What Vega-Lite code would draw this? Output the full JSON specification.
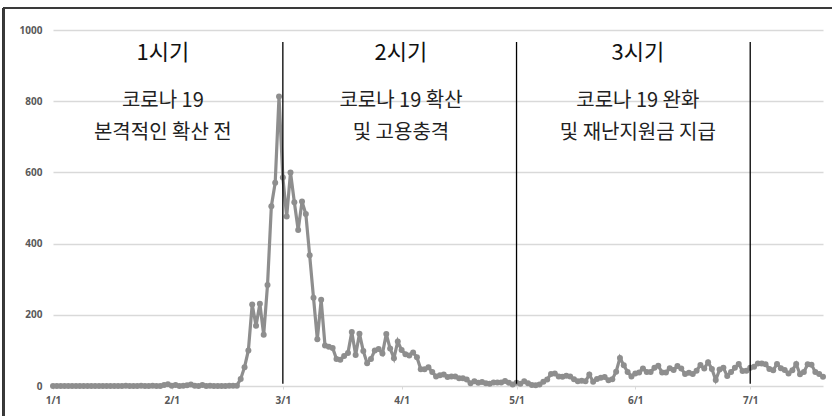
{
  "$schema": "https://vega.github.io/schema/vega-lite/v6.json",
  "width": 770,
  "height": 356,
  "autosize": {"type": "none"},
  "padding": {"left": 53, "top": 30, "right": 9, "bottom": 30},
  "background": "#ffffff",
  "config": {
    "view": {"stroke": null},
    "axis": {"labelFont": "Noto Sans", "labelColor": "#595959", "labelFontSize": 10, "labelFontWeight": "bold"}
  },
  "data": {
    "values": [
      {"date": "2020-01-01", "cases": 0}, {"date": "2020-01-02", "cases": 0}, {"date": "2020-01-03", "cases": 0}, {"date": "2020-01-04", "cases": 0}, {"date": "2020-01-05", "cases": 0},
      {"date": "2020-01-06", "cases": 0}, {"date": "2020-01-07", "cases": 0}, {"date": "2020-01-08", "cases": 0}, {"date": "2020-01-09", "cases": 0}, {"date": "2020-01-10", "cases": 0},
      {"date": "2020-01-11", "cases": 0}, {"date": "2020-01-12", "cases": 0}, {"date": "2020-01-13", "cases": 0}, {"date": "2020-01-14", "cases": 0}, {"date": "2020-01-15", "cases": 0},
      {"date": "2020-01-16", "cases": 0}, {"date": "2020-01-17", "cases": 0}, {"date": "2020-01-18", "cases": 0}, {"date": "2020-01-19", "cases": 0}, {"date": "2020-01-20", "cases": 1},
      {"date": "2020-01-21", "cases": 0}, {"date": "2020-01-22", "cases": 0}, {"date": "2020-01-23", "cases": 0}, {"date": "2020-01-24", "cases": 1}, {"date": "2020-01-25", "cases": 0},
      {"date": "2020-01-26", "cases": 0}, {"date": "2020-01-27", "cases": 1}, {"date": "2020-01-28", "cases": 0}, {"date": "2020-01-29", "cases": 0}, {"date": "2020-01-30", "cases": 3},
      {"date": "2020-01-31", "cases": 5},
      {"date": "2020-02-01", "cases": 1}, {"date": "2020-02-02", "cases": 3}, {"date": "2020-02-03", "cases": 0}, {"date": "2020-02-04", "cases": 1}, {"date": "2020-02-05", "cases": 2},
      {"date": "2020-02-06", "cases": 4}, {"date": "2020-02-07", "cases": 1}, {"date": "2020-02-08", "cases": 0}, {"date": "2020-02-09", "cases": 3}, {"date": "2020-02-10", "cases": 0},
      {"date": "2020-02-11", "cases": 1}, {"date": "2020-02-12", "cases": 0}, {"date": "2020-02-13", "cases": 0}, {"date": "2020-02-14", "cases": 0}, {"date": "2020-02-15", "cases": 0},
      {"date": "2020-02-16", "cases": 1}, {"date": "2020-02-17", "cases": 1}, {"date": "2020-02-18", "cases": 1}, {"date": "2020-02-19", "cases": 20}, {"date": "2020-02-20", "cases": 53},
      {"date": "2020-02-21", "cases": 100}, {"date": "2020-02-22", "cases": 229}, {"date": "2020-02-23", "cases": 169}, {"date": "2020-02-24", "cases": 231}, {"date": "2020-02-25", "cases": 144},
      {"date": "2020-02-26", "cases": 284}, {"date": "2020-02-27", "cases": 505}, {"date": "2020-02-28", "cases": 571}, {"date": "2020-02-29", "cases": 813},
      {"date": "2020-03-01", "cases": 586}, {"date": "2020-03-02", "cases": 476}, {"date": "2020-03-03", "cases": 600}, {"date": "2020-03-04", "cases": 516}, {"date": "2020-03-05", "cases": 438},
      {"date": "2020-03-06", "cases": 518}, {"date": "2020-03-07", "cases": 483}, {"date": "2020-03-08", "cases": 367}, {"date": "2020-03-09", "cases": 248}, {"date": "2020-03-10", "cases": 131},
      {"date": "2020-03-11", "cases": 242}, {"date": "2020-03-12", "cases": 114}, {"date": "2020-03-13", "cases": 110}, {"date": "2020-03-14", "cases": 107}, {"date": "2020-03-15", "cases": 76},
      {"date": "2020-03-16", "cases": 74}, {"date": "2020-03-17", "cases": 84}, {"date": "2020-03-18", "cases": 93}, {"date": "2020-03-19", "cases": 152}, {"date": "2020-03-20", "cases": 87},
      {"date": "2020-03-21", "cases": 147}, {"date": "2020-03-22", "cases": 98}, {"date": "2020-03-23", "cases": 64}, {"date": "2020-03-24", "cases": 76}, {"date": "2020-03-25", "cases": 100},
      {"date": "2020-03-26", "cases": 104}, {"date": "2020-03-27", "cases": 91}, {"date": "2020-03-28", "cases": 146}, {"date": "2020-03-29", "cases": 105}, {"date": "2020-03-30", "cases": 78},
      {"date": "2020-03-31", "cases": 125},
      {"date": "2020-04-01", "cases": 101}, {"date": "2020-04-02", "cases": 89}, {"date": "2020-04-03", "cases": 86}, {"date": "2020-04-04", "cases": 94}, {"date": "2020-04-05", "cases": 81},
      {"date": "2020-04-06", "cases": 47}, {"date": "2020-04-07", "cases": 47}, {"date": "2020-04-08", "cases": 53}, {"date": "2020-04-09", "cases": 39}, {"date": "2020-04-10", "cases": 27},
      {"date": "2020-04-11", "cases": 30}, {"date": "2020-04-12", "cases": 32}, {"date": "2020-04-13", "cases": 25}, {"date": "2020-04-14", "cases": 27}, {"date": "2020-04-15", "cases": 27},
      {"date": "2020-04-16", "cases": 22}, {"date": "2020-04-17", "cases": 22}, {"date": "2020-04-18", "cases": 18}, {"date": "2020-04-19", "cases": 8}, {"date": "2020-04-20", "cases": 13},
      {"date": "2020-04-21", "cases": 9}, {"date": "2020-04-22", "cases": 11}, {"date": "2020-04-23", "cases": 8}, {"date": "2020-04-24", "cases": 6}, {"date": "2020-04-25", "cases": 10},
      {"date": "2020-04-26", "cases": 10}, {"date": "2020-04-27", "cases": 10}, {"date": "2020-04-28", "cases": 14}, {"date": "2020-04-29", "cases": 9}, {"date": "2020-04-30", "cases": 4},
      {"date": "2020-05-01", "cases": 9}, {"date": "2020-05-02", "cases": 6}, {"date": "2020-05-03", "cases": 13}, {"date": "2020-05-04", "cases": 8}, {"date": "2020-05-05", "cases": 3},
      {"date": "2020-05-06", "cases": 2}, {"date": "2020-05-07", "cases": 4}, {"date": "2020-05-08", "cases": 12}, {"date": "2020-05-09", "cases": 18}, {"date": "2020-05-10", "cases": 34},
      {"date": "2020-05-11", "cases": 35}, {"date": "2020-05-12", "cases": 27}, {"date": "2020-05-13", "cases": 26}, {"date": "2020-05-14", "cases": 29}, {"date": "2020-05-15", "cases": 27},
      {"date": "2020-05-16", "cases": 19}, {"date": "2020-05-17", "cases": 13}, {"date": "2020-05-18", "cases": 15}, {"date": "2020-05-19", "cases": 13}, {"date": "2020-05-20", "cases": 32},
      {"date": "2020-05-21", "cases": 12}, {"date": "2020-05-22", "cases": 20}, {"date": "2020-05-23", "cases": 23}, {"date": "2020-05-24", "cases": 25}, {"date": "2020-05-25", "cases": 16},
      {"date": "2020-05-26", "cases": 19}, {"date": "2020-05-27", "cases": 40}, {"date": "2020-05-28", "cases": 79}, {"date": "2020-05-29", "cases": 58}, {"date": "2020-05-30", "cases": 39},
      {"date": "2020-05-31", "cases": 27},
      {"date": "2020-06-01", "cases": 35}, {"date": "2020-06-02", "cases": 38}, {"date": "2020-06-03", "cases": 49}, {"date": "2020-06-04", "cases": 39}, {"date": "2020-06-05", "cases": 39},
      {"date": "2020-06-06", "cases": 51}, {"date": "2020-06-07", "cases": 57}, {"date": "2020-06-08", "cases": 38}, {"date": "2020-06-09", "cases": 38}, {"date": "2020-06-10", "cases": 50},
      {"date": "2020-06-11", "cases": 45}, {"date": "2020-06-12", "cases": 56}, {"date": "2020-06-13", "cases": 49}, {"date": "2020-06-14", "cases": 34}, {"date": "2020-06-15", "cases": 37},
      {"date": "2020-06-16", "cases": 34}, {"date": "2020-06-17", "cases": 43}, {"date": "2020-06-18", "cases": 59}, {"date": "2020-06-19", "cases": 49}, {"date": "2020-06-20", "cases": 67},
      {"date": "2020-06-21", "cases": 48}, {"date": "2020-06-22", "cases": 17}, {"date": "2020-06-23", "cases": 46}, {"date": "2020-06-24", "cases": 51}, {"date": "2020-06-25", "cases": 28},
      {"date": "2020-06-26", "cases": 39}, {"date": "2020-06-27", "cases": 51}, {"date": "2020-06-28", "cases": 62}, {"date": "2020-06-29", "cases": 42}, {"date": "2020-06-30", "cases": 43},
      {"date": "2020-07-01", "cases": 51}, {"date": "2020-07-02", "cases": 54}, {"date": "2020-07-03", "cases": 63}, {"date": "2020-07-04", "cases": 63}, {"date": "2020-07-05", "cases": 61},
      {"date": "2020-07-06", "cases": 48}, {"date": "2020-07-07", "cases": 44}, {"date": "2020-07-08", "cases": 62}, {"date": "2020-07-09", "cases": 50}, {"date": "2020-07-10", "cases": 45},
      {"date": "2020-07-11", "cases": 35}, {"date": "2020-07-12", "cases": 44}, {"date": "2020-07-13", "cases": 62}, {"date": "2020-07-14", "cases": 33}, {"date": "2020-07-15", "cases": 39},
      {"date": "2020-07-16", "cases": 61}, {"date": "2020-07-17", "cases": 60}, {"date": "2020-07-18", "cases": 39}, {"date": "2020-07-19", "cases": 34}, {"date": "2020-07-20", "cases": 26}
    ]
  },
  "layer": [
    {
      "mark": {"type": "line", "color": "#8e8e8e", "strokeWidth": 3.2, "point": {"filled": true, "size": 36, "color": "#8e8e8e"}},
      "encoding": {
        "x": {
          "field": "date", "type": "temporal",
          "scale": {"type": "utc", "domain": [{"year": 2020, "month": 1, "date": 1, "utc": true}, {"year": 2020, "month": 7, "date": 20, "utc": true}]},
          "axis": {
            "title": null, "grid": false, "domain": false, "format": "%-m/%-d",
            "values": [
              {"year": 2020, "month": 1, "date": 1, "utc": true}, {"year": 2020, "month": 2, "date": 1, "utc": true},
              {"year": 2020, "month": 3, "date": 1, "utc": true}, {"year": 2020, "month": 4, "date": 1, "utc": true},
              {"year": 2020, "month": 5, "date": 1, "utc": true}, {"year": 2020, "month": 6, "date": 1, "utc": true},
              {"year": 2020, "month": 7, "date": 1, "utc": true}
            ],
            "ticks": true, "tickSize": 3, "tickColor": "#d9d9d9", "labelPadding": 6, "labelFlush": false
          }
        },
        "y": {
          "field": "cases", "type": "quantitative",
          "scale": {"domain": [0, 1000], "nice": false},
          "axis": {"title": null, "format": "d", "values": [0, 200, 400, 600, 800, 1000], "grid": true, "gridColor": "#d9d9d9", "gridWidth": 1.5, "domain": false, "ticks": false, "labelPadding": 11}
        }
      }
    },
    {
      "data": {"values": [{"boundary": "2020-03-01"}, {"boundary": "2020-05-01"}, {"boundary": "2020-07-01"}]},
      "mark": {"type": "rule", "color": "#000000", "strokeWidth": 1.3},
      "encoding": {
        "x": {"field": "boundary", "type": "temporal"},
        "y": {"datum": 966, "type": "quantitative"},
        "y2": {"datum": 6}
      }
    },
    {
      "mark": {"type": "rule", "color": "#3a3a3a", "strokeWidth": 2},
      "encoding": {
        "x": {"datum": {"year": 2019, "month": 12, "date": 19, "hours": 5, "utc": true}, "type": "temporal"},
        "x2": {"datum": {"year": 2020, "month": 7, "date": 26, "utc": true}},
        "y": {"datum": 1062, "type": "quantitative"}
      }
    },
    {
      "mark": {"type": "rule", "color": "#3a3a3a", "strokeWidth": 2},
      "encoding": {
        "x": {"datum": {"year": 2019, "month": 12, "date": 19, "hours": 5, "utc": true}, "type": "temporal"},
        "y": {"datum": 1062, "type": "quantitative"},
        "y2": {"datum": -120}
      }
    },
    {
      "data": {"values": [
        {"period": "1", "mid": "2020-01-29T16:00:00Z", "title": "1시기", "line1": "코로나 19", "line2": "본격적인 확산 전"},
        {"period": "2", "mid": "2020-03-31T20:00:00Z", "title": "2시기", "line1": "코로나 19 확산", "line2": "및 고용충격"},
        {"period": "3", "mid": "2020-06-01T16:00:00Z", "title": "3시기", "line1": "코로나 19 완화", "line2": "및 재난지원금 지급"}
      ]},
      "layer": [
        {
          "mark": {"type": "text", "font": "Noto Sans CJK KR", "fontSize": 22, "color": "#111111", "baseline": "middle", "align": "center"},
          "encoding": {"x": {"field": "mid", "type": "temporal"}, "y": {"datum": 936, "type": "quantitative"}, "text": {"field": "title"}}
        },
        {
          "mark": {"type": "text", "font": "Noto Sans CJK KR", "fontSize": 20, "color": "#222222", "baseline": "middle", "align": "center"},
          "encoding": {"x": {"field": "mid", "type": "temporal"}, "y": {"datum": 800, "type": "quantitative"}, "text": {"field": "line1"}}
        },
        {
          "mark": {"type": "text", "font": "Noto Sans CJK KR", "fontSize": 20, "color": "#222222", "baseline": "middle", "align": "center"},
          "encoding": {"x": {"field": "mid", "type": "temporal"}, "y": {"datum": 712, "type": "quantitative"}, "text": {"field": "line2"}}
        }
      ]
    }
  ]
}
